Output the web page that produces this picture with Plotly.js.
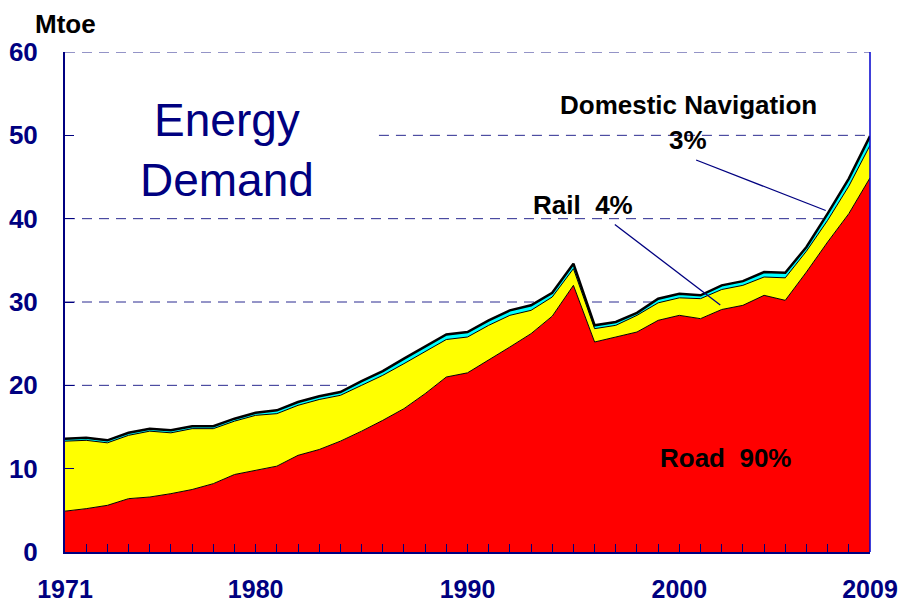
<!DOCTYPE html>
<html>
<head>
<meta charset="utf-8">
<script src="https://cdn.plot.ly/plotly-3.0.1.min.js"></script>
<style>
  body { margin: 0; background: #fff; }
  #graph { width: 904px; height: 606px; }
</style>
</head>
<body>
<div id="graph"></div>
<script>
// Years 1971 - 2009
var years = [];
for (var y = 1971; y <= 2009; y++) years.push(y);

// Mtoe
var road = [4.9, 5.2, 5.6, 6.4, 6.6, 7.0, 7.5, 8.2, 9.3, 9.8,
            10.3, 11.6, 12.3, 13.3, 14.5, 15.8, 17.2, 19.0, 21.0, 21.5,
            23.0, 24.6, 26.2, 28.3, 32.0, 25.2, 25.8, 26.4, 27.8, 28.4,
            28.0, 29.1, 29.6, 30.8, 30.2, 33.6, 37.2, 40.6, 44.9];
var rail = [8.4, 8.2, 7.5, 7.6, 7.9, 7.3, 7.3, 6.6, 6.4, 6.6,
            6.3, 6.0, 6.0, 5.5, 5.5, 5.4, 5.4, 5.1, 4.5, 4.3,
            4.2, 3.8, 2.8, 2.3, 2.0, 1.6, 1.4, 2.0, 2.1, 2.1,
            2.4, 2.4, 2.4, 2.2, 2.7, 2.5, 2.6, 3.3, 3.9];
var navigation = [0.3, 0.3, 0.3, 0.3, 0.3, 0.3, 0.3, 0.3, 0.3, 0.3,
                  0.4, 0.4, 0.4, 0.4, 0.5, 0.5, 0.6, 0.6, 0.6, 0.6,
                  0.6, 0.6, 0.6, 0.5, 0.6, 0.4, 0.4, 0.3, 0.5, 0.5,
                  0.4, 0.5, 0.5, 0.6, 0.6, 0.5, 0.8, 0.9, 1.1];

var yearLabels = [1971, 1980, 1990, 2000, 2009];
var gridValues = [10, 20, 30, 40, 50, 60];

var navy = '#000080';
var fontName = 'Liberation Sans, Arial, sans-serif';

var traces = [
    { x: years, y: road, name: 'Road', type: 'scatter', mode: 'lines',
      stackgroup: 'one', fillcolor: '#ff0000', line: { color: '#000', width: 1 } },
    { x: years, y: rail, name: 'Rail', type: 'scatter', mode: 'lines',
      stackgroup: 'one', fillcolor: '#ffff00', line: { color: '#000', width: 1 } },
    { x: years, y: navigation, name: 'Domestic Navigation', type: 'scatter', mode: 'lines',
      stackgroup: 'one', fillcolor: '#00ffff', line: { color: '#000', width: 2.5 } }
];

// dashed grid lines (the 50 one is partly hidden behind the label)
var shapes = gridValues.map(function(v) {
    return {
        type: 'line', xref: 'paper', yref: 'y', layer: 'below',
        x0: v == 50 ? 0.39 : 0, x1: 1, y0: v, y1: v,
        line: { color: '#2a2a90', width: 1, dash: '10px,7px' }
    };
});
// right border
shapes.push({ type: 'line', xref: 'paper', yref: 'paper', x0: 1, x1: 1, y0: 0, y1: 1,
              line: { color: '#0000cc', width: 1.5 } });
// leader lines
shapes.push({ type: 'line', xref: 'paper', yref: 'paper', x0: 0.784, y0: 0.784, x1: 0.945, y1: 0.683,
              line: { color: navy, width: 1.3 } });
shapes.push({ type: 'line', xref: 'paper', yref: 'paper', x0: 0.683, y0: 0.655, x1: 0.814, y1: 0.494,
              line: { color: navy, width: 1.3 } });

function label(text, x, y, size, color, weight) {
    return { text: text, xref: 'paper', yref: 'paper', x: x, y: y,
             xanchor: 'center', yanchor: 'middle', showarrow: false,
             font: { family: fontName, size: size, color: color, weight: weight } };
}

var layout = {
    width: 904,
    height: 606,
    margin: { l: 65, r: 34, t: 52, b: 54 },
    paper_bgcolor: '#fff',
    plot_bgcolor: '#fff',
    showlegend: false,
    font: { family: fontName },
    xaxis: {
        range: [1971, 2009],
        tickmode: 'array',
        tickvals: yearLabels,
        ticks: 'inside',
        ticklen: 8,
        tickcolor: navy,
        showgrid: false,
        zeroline: false,
        showline: true,
        linecolor: navy,
        linewidth: 2,
        ticklabelstandoff: 14,
        tickfont: { family: fontName, size: 25, color: navy, weight: 'bold' },
        minor: { tickmode: 'linear', tick0: 1971, dtick: 1, ticks: 'inside', ticklen: 8, tickcolor: navy, showgrid: false }
    },
    yaxis: {
        range: [0, 60],
        tickmode: 'linear',
        tick0: 0,
        dtick: 10,
        ticks: 'inside',
        ticklen: 9,
        tickcolor: navy,
        showgrid: false,
        zeroline: false,
        showline: true,
        linecolor: navy,
        linewidth: 2,
        ticklabelstandoff: 20,
        tickfont: { family: fontName, size: 26, color: navy, weight: 'bold' }
    },
    shapes: shapes,
    annotations: [
        label('Mtoe', 0, 1.056, 26, '#000', 'bold'),
        label('Energy<br>Demand', 0.201, 0.804, 46, navy, 'normal'),
        label('Domestic Navigation', 0.775, 0.894, 26, '#000', 'bold'),
        label('3%', 0.774, 0.824, 26, '#000', 'bold'),
        label('Rail\u00a0\u00a04%', 0.6435, 0.694, 26, '#000', 'bold'),
        label('Road\u00a0\u00a090%', 0.821, 0.188, 26, '#000', 'bold')
    ]
};

Plotly.newPlot('graph', traces, layout, { displayModeBar: false });
</script>
</body>
</html>
